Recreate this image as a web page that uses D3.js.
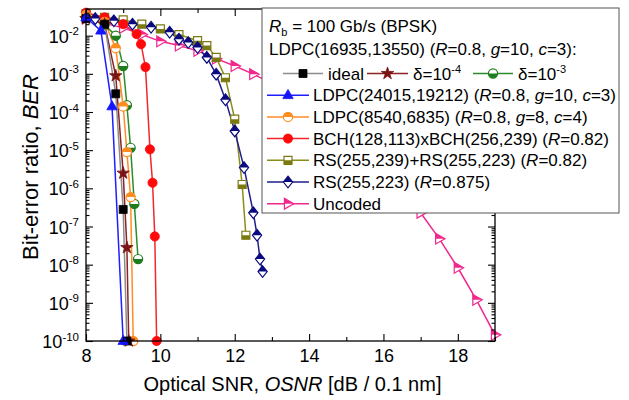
<!DOCTYPE html>
<html><head><meta charset="utf-8">
<script src="https://cdn.jsdelivr.net/npm/d3@7"></script>
<style>
body{margin:0;background:#fff}
svg{display:block}
text{font-family:"Liberation Sans",Arial,Helvetica,sans-serif;fill:#000}
</style>
</head><body>
<svg id="c" width="629" height="400"></svg>
<script>
// ---------------- data ----------------
const xMajorTicks = [8, 10, 12, 14, 16, 18];
const xMinorTicks = [9, 11, 13, 15, 17, 19];
const yDecadeExps = [-10, -9, -8, -7, -6, -5, -4, -3, -2];

const osnrIdeal = [8.0, 8.5, 8.8, 9.0, 9.1];
const berIdeal  = [2.8e-2, 2.0e-2, 3.0e-4, 2.8e-7, 1e-10];

const osnrD4 = [8.0, 8.5, 8.8, 9.0, 9.1, 9.15];
const berD4  = [2.8e-2, 2.0e-2, 8.9e-4, 2.5e-6, 2.8e-8, 1e-10];

const osnrD3 = [8.0, 8.5, 8.8, 9.0, 9.1, 9.2, 9.3, 9.4];
const berD3  = [3.0e-2, 1.95e-2, 1.0e-2, 1.6e-3, 1.5e-4, 1.15e-5, 3.9e-7, 1.4e-8];

const osnrL24015 = [8.0, 8.4, 8.7, 9.0];
const berL24015  = [3.0e-2, 1.35e-2, 1.4e-4, 1e-10];

const osnrL8540 = [8.0, 8.5, 8.8, 9.0, 9.1, 9.2, 9.27];
const berL8540  = [3.5e-2, 2.3e-2, 4.7e-3, 1.4e-4, 8.9e-6, 5.9e-7, 1e-10];

const osnrBCH = [8.0, 8.5, 9.0, 9.36, 9.48, 9.6, 9.72, 9.79, 9.85, 9.9];
const berBCH  = [4.0e-2, 3.0e-2, 2.0e-2, 1.1e-2, 6.0e-3, 1.5e-3, 1.05e-5, 1.4e-6, 5.5e-8, 1e-10];

const osnrRSRS = [8.0, 8.5, 9.0, 9.5, 10.0, 10.5, 11.0, 11.25, 11.5, 11.75, 12.0, 12.2, 12.3];
const berRSRS  = [3.8e-2, 3.0e-2, 2.6e-2, 2.0e-2, 1.5e-2, 1.07e-2, 7.4e-3, 5.5e-3, 2.7e-3, 7.9e-4, 6.5e-5, 1.26e-6, 5.9e-8];

const osnrRS = [8.0, 8.25, 8.75, 9.25, 9.75, 10.25, 10.5, 10.75, 11.0, 11.25, 11.5, 11.75, 12.0, 12.25, 12.5, 12.6, 12.68, 12.75];
const berRS  = [3.2e-2, 2.8e-2, 2.45e-2, 2.0e-2, 1.66e-2, 1.23e-2, 8.1e-3, 6.6e-3, 4.9e-3, 2.7e-3, 9.8e-4, 2.1e-4, 3.2e-5, 3.5e-6, 2.3e-7, 5.9e-8, 1.4e-8, 6.6e-9];

const osnrUncoded = [8.0, 8.5, 9.0, 9.5, 10.0, 10.5, 11.0, 11.5, 12.0, 12.5, 13.0, 13.5, 14.0, 14.5, 15.0, 15.5, 16.0, 16.5, 17.0, 17.5, 18.0, 18.5, 19.0];
const berUncoded  = [2.8e-2, 2.1e-2, 1.6e-2, 1.07e-2, 7.1e-3, 5.5e-3, 4.0e-3, 2.5e-3, 1.6e-3, 9.8e-4, 5.6e-4, 3.0e-4, 1.5e-4, 7.1e-5, 3.0e-5, 1.2e-5, 4.0e-6, 1.05e-6, 2.3e-7, 4.8e-8, 8.3e-9, 1.2e-9, 1.45e-10];

// legend texts
const legendTitle = ["R", "b", " = 100 Gb/s (BPSK)"];
const legendGroup = [["LDPC(16935,13550) ("],["R","i"],["=0.8, "],["g","i"],["=10, "],["c","i"],["=3):"]];
const labelIdeal = "ideal";
const labelD4 = ["\u03B4=10", "-4"];
const labelD3 = ["\u03B4=10", "-3"];
const labelL24015 = [["LDPC(24015,19212) ("],["R","i"],["=0.8, "],["g","i"],["=10, "],["c","i"],["=3)"]];
const labelL8540 = [["LDPC(8540,6835) ("],["R","i"],["=0.8, "],["g","i"],["=8, "],["c","i"],["=4)"]];
const labelBCH = [["BCH(128,113)xBCH(256,239) ("],["R","i"],["=0.82)"]];
const labelRSRS = [["RS(255,239)+RS(255,223) ("],["R","i"],["=0.82)"]];
const labelRS = [["RS(255,223) ("],["R","i"],["=0.875)"]];
const labelUncoded = [["Uncoded"]];

const xTitleParts = [["Optical SNR, "],["OSNR","i"],[" [dB / 0.1 nm]"]];
const yTitleParts = [["Bit-error ratio, "],["BER","i"]];

// ---------------- setup ----------------
const svg = d3.select("#c");
const L = 86, R = 495, T = 9, B = 341;
const x = d3.scaleLinear().domain([8, 19]).range([L, R]);
const y = d3.scaleLog().domain([1e-10, 0.05]).range([B, T]);

const defs = svg.append("defs");
defs.append("clipPath").attr("id","clipTop").attr("clipPathUnits","userSpaceOnUse")
  .append("rect").attr("x",-10).attr("y",-10).attr("width",20).attr("height",10);
defs.append("clipPath").attr("id","clipBot").attr("clipPathUnits","userSpaceOnUse")
  .append("rect").attr("x",-10).attr("y",0).attr("width",20).attr("height",10);

function shapePath(type){
  if(type==="circle"){ const p=d3.path(); p.arc(0,0,4.6,0,2*Math.PI); p.closePath(); return p.toString(); }
  if(type==="square") return "M-4,-4h8v8h-8Z";
  if(type==="triUp") return "M0,-5.8L5.2,3.4L-5.2,3.4Z";
  if(type==="triRight") return "M5.8,0L-3.6,-5.4L-3.6,5.4Z";
  if(type==="diamond") return "M0,-5.8L4.6,0L0,5.8L-4.6,0Z";
  if(type==="star") return d3.symbol(d3.symbolStar, 48)();
}
function drawMarker(g, type, color, half, cx, cy){
  const m = g.append("g").attr("transform",`translate(${cx},${cy})`);
  const d = shapePath(type);
  if(half){
    m.append("path").attr("d",d).attr("fill","#fff");
    m.append("path").attr("d",d).attr("fill",color).attr("clip-path", half==="top"?"url(#clipTop)":"url(#clipBot)");
    m.append("path").attr("d",d).attr("fill","none").attr("stroke",color).attr("stroke-width",1.2);
  } else {
    m.append("path").attr("d",d).attr("fill",color).attr("stroke",color).attr("stroke-width",0.8);
  }
}

const series = [
  {osnr: osnrUncoded, ber: berUncoded, line:"#f0288c", color:"#f0288c", marker:"triRight", half:"top"},
  {osnr: osnrRSRS, ber: berRSRS, line:"#8c8c1e", color:"#7a7a10", marker:"square", half:"bot"},
  {osnr: osnrRS, ber: berRS, line:"#1e1e8c", color:"#0a0a80", marker:"diamond", half:"top"},
  {osnr: osnrBCH, ber: berBCH, line:"#f0282d", color:"#ff0a0a", marker:"circle", half:null},
  {osnr: osnrD3, ber: berD3, line:"#2a8c2a", color:"#1e7d1e", marker:"circle", half:"bot"},
  {osnr: osnrL8540, ber: berL8540, line:"#ff8c28", color:"#ff8c1e", marker:"circle", half:"top"},
  {osnr: osnrD4, ber: berD4, line:"#8c2323", color:"#7a1414", marker:"star", half:null},
  {osnr: osnrIdeal, ber: berIdeal, line:"#8c8c8c", color:"#000", marker:"square", half:null},
  {osnr: osnrL24015, ber: berL24015, line:"#1e1eff", color:"#1414ff", marker:"triUp", half:null}
];

const plot = svg.append("g");
const lineGen = d3.line().x(d=>x(d[0])).y(d=>y(d[1]));
series.forEach(s=>{
  const pts = s.osnr.map((v,i)=>[v, s.ber[i]]);
  plot.append("path").attr("d", lineGen(pts)).attr("fill","none")
    .attr("stroke", s.line).attr("stroke-width",1.5);
});
series.forEach(s=>{
  s.osnr.forEach((v,i)=> drawMarker(plot, s.marker, s.color, s.half, x(v), y(s.ber[i])));
});

// ---------------- axes ----------------
function styleAxis(g){ g.select(".domain").remove(); g.selectAll(".tick line").attr("stroke","#000").attr("stroke-width",1.1); }
const minorY = [];
yDecadeExps.concat([-1]).forEach(e=>{ for(let k=2;k<=9;k++){ const v=k*Math.pow(10,e-1); if(v>1e-10 && v<=0.05) minorY.push(v);} });
const yMaj = yDecadeExps.map(e=>Math.pow(10,e));

svg.append("g").attr("transform",`translate(0,${B})`)
  .call(d3.axisBottom(x).tickValues(xMajorTicks).tickSize(-7).tickSizeOuter(0).tickPadding(8).tickFormat(d3.format("d")))
  .call(styleAxis).call(g=>g.selectAll("text").attr("font-size",18).attr("font-family","Liberation Sans, Arial, sans-serif").attr("fill","#000"));
svg.append("g").attr("transform",`translate(0,${B})`)
  .call(d3.axisBottom(x).tickValues(xMinorTicks).tickSize(-4).tickSizeOuter(0).tickFormat(""))
  .call(styleAxis);
svg.append("g").attr("transform",`translate(0,${T})`)
  .call(d3.axisTop(x).tickValues(xMajorTicks).tickSize(-7).tickSizeOuter(0).tickFormat(""))
  .call(styleAxis);
svg.append("g").attr("transform",`translate(0,${T})`)
  .call(d3.axisTop(x).tickValues(xMinorTicks).tickSize(-4).tickSizeOuter(0).tickFormat(""))
  .call(styleAxis);

svg.append("g").attr("transform",`translate(${L},0)`)
  .call(d3.axisLeft(y).tickValues(yMaj).tickSize(-7).tickSizeOuter(0).tickFormat(""))
  .call(styleAxis);
svg.append("g").attr("transform",`translate(${L},0)`)
  .call(d3.axisLeft(y).tickValues(minorY).tickSize(-3.5).tickSizeOuter(0).tickFormat(""))
  .call(styleAxis);
svg.append("g").attr("transform",`translate(${R},0)`)
  .call(d3.axisRight(y).tickValues(yMaj).tickSize(-7).tickSizeOuter(0).tickFormat(""))
  .call(styleAxis);
svg.append("g").attr("transform",`translate(${R},0)`)
  .call(d3.axisRight(y).tickValues(minorY).tickSize(-3.5).tickSizeOuter(0).tickFormat(""))
  .call(styleAxis);

// y tick labels
yDecadeExps.forEach(e=>{
  const t = svg.append("text").attr("x", 79).attr("y", y(Math.pow(10,e))+7)
    .attr("text-anchor","end").attr("font-size",18);
  t.append("tspan").text("10");
  t.append("tspan").attr("dy",-7.5).attr("font-size",11.5).text(String(e));
});

svg.append("rect").attr("x",L).attr("y",T).attr("width",R-L).attr("height",B-T)
  .attr("fill","none").attr("stroke","#000").attr("stroke-width",1.3);

// axis titles
function richText(sel, parts){
  parts.forEach(p=>{ const ts = sel.append("tspan").text(p[0]); if(p[1]==="i") ts.attr("font-style","italic"); });
}
const xt = svg.append("text").attr("x", (L+R)/2 + 2).attr("y", 391).attr("text-anchor","middle").attr("font-size",20);
richText(xt, xTitleParts);
const yt = svg.append("text").attr("transform",`translate(38,${(T+B)/2 - 8}) rotate(-90)`).attr("text-anchor","middle").attr("font-size",22);
richText(yt, yTitleParts);

// ---------------- legend ----------------
const lg = svg.append("g");
lg.append("rect").attr("x",262).attr("y",8).attr("width",357).attr("height",205)
  .attr("fill","#fff").attr("stroke","#555").attr("stroke-width",1);
const fs = 17;
const t1 = lg.append("text").attr("x",269).attr("y",32).attr("font-size",fs);
t1.append("tspan").attr("font-style","italic").text(legendTitle[0]);
t1.append("tspan").attr("font-size",11).attr("dy",4).text(legendTitle[1]);
t1.append("tspan").attr("dy",-4).text(legendTitle[2]);
const t2 = lg.append("text").attr("x",269).attr("y",55).attr("font-size",fs);
richText(t2, legendGroup);

function legendSample(x0, x1, cy, s){
  lg.append("line").attr("x1",x0).attr("x2",x1).attr("y1",cy).attr("y2",cy).attr("stroke",s.line).attr("stroke-width",1.5);
  drawMarker(lg, s.marker, s.color, s.half, (x0+x1)/2, cy);
}
const sIdeal = series[7], sD4 = series[6], sD3 = series[4];
const r3 = 73.5;
legendSample(283, 323, r3, sIdeal);
lg.append("text").attr("x",328).attr("y",r3+6).attr("font-size",fs).text(labelIdeal);
legendSample(367, 408, r3, sD4);
const td4 = lg.append("text").attr("x",413).attr("y",r3+6).attr("font-size",fs);
td4.append("tspan").text(labelD4[0]); td4.append("tspan").attr("dy",-7).attr("font-size",11).text(labelD4[1]);
legendSample(473, 513, r3, sD3);
const td3 = lg.append("text").attr("x",518).attr("y",r3+6).attr("font-size",fs);
td3.append("tspan").text(labelD3[0]); td3.append("tspan").attr("dy",-7).attr("font-size",11).text(labelD3[1]);

const rows = [
  [series[8], labelL24015],
  [series[5], labelL8540],
  [series[3], labelBCH],
  [series[1], labelRSRS],
  [series[2], labelRS],
  [series[0], labelUncoded]
];
rows.forEach((r,i)=>{
  const cy = r3 + 21.7*(i+1);
  legendSample(267, 309, cy, r[0]);
  const t = lg.append("text").attr("x",313).attr("y",cy+6).attr("font-size",fs);
  richText(t, r[1]);
});
</script>
</body></html>
